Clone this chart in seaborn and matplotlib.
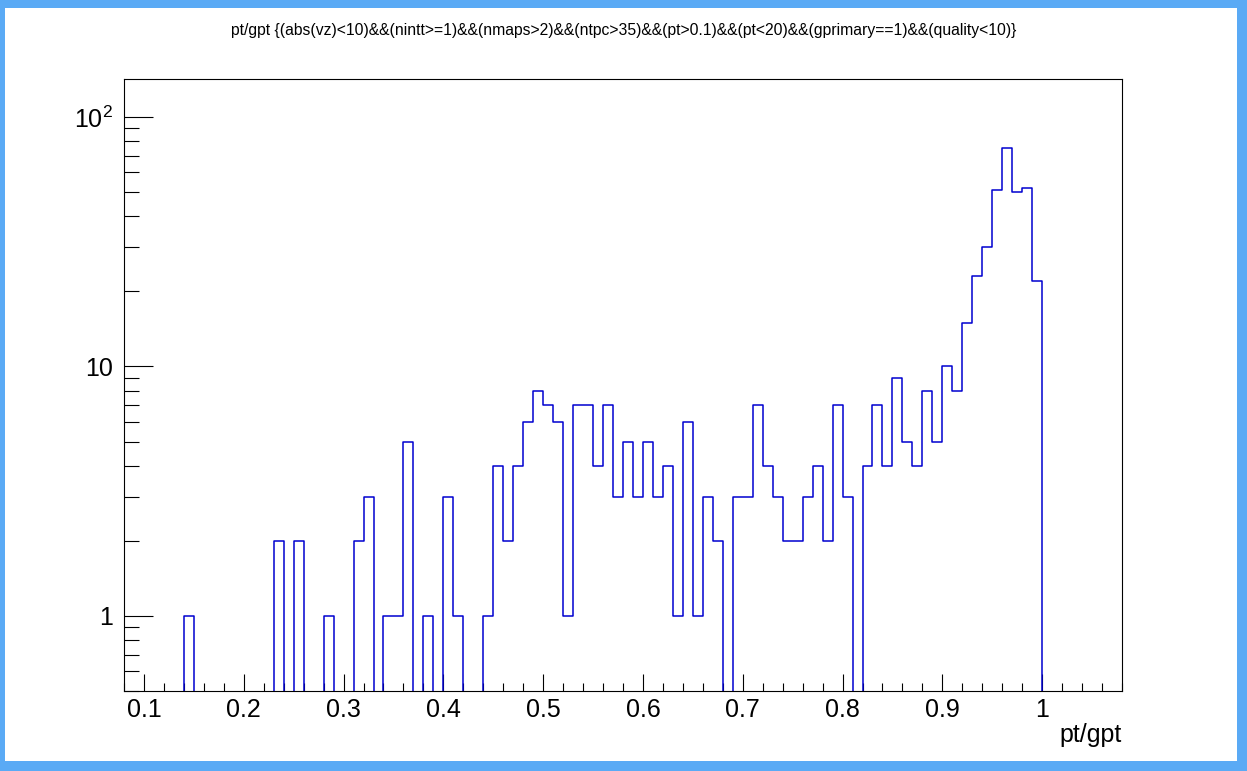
import numpy as np
import pandas as pd
import matplotlib
matplotlib.use("Agg")
import matplotlib.pyplot as plt
import matplotlib.ticker as mticker
from matplotlib.patches import Rectangle
import seaborn as sns

# ---- data -------------------------------------------------------------
x_min, x_max, n_bins = 0.08, 1.08, 100
counts = [
    0, 0, 0, 0, 0, 0, 1, 0, 0, 0,      # 0.08 - 0.17
    0, 0, 0, 0, 0, 2, 0, 2, 0, 0,      # 0.18 - 0.27
    1, 0, 0, 2, 3, 0, 1, 1, 5, 0,      # 0.28 - 0.37
    1, 0, 3, 1, 0, 0, 1, 4, 2, 4,      # 0.38 - 0.47
    6, 8, 7, 6, 1, 7, 7, 4, 7, 3,      # 0.48 - 0.57
    5, 3, 5, 3, 4, 1, 6, 1, 3, 2,      # 0.58 - 0.67
    0, 3, 3, 7, 4, 3, 2, 2, 3, 4,      # 0.68 - 0.77
    2, 7, 3, 0, 4, 7, 4, 9, 5, 4,      # 0.78 - 0.87
    8, 5, 10, 8, 15, 23, 30, 51, 75, 50,  # 0.88 - 0.97
    52, 22, 0, 0, 0, 0, 0, 0, 0, 0,    # 0.98 - 1.07
]
x_ticks = [0.1, 0.2, 0.3, 0.4, 0.5, 0.6, 0.7, 0.8, 0.9, 1.0]
x_tick_labels = ["0.1", "0.2", "0.3", "0.4", "0.5", "0.6", "0.7", "0.8", "0.9", "1"]
y_ticks = [1, 10, 100]
y_tick_labels = ["1", "10", r"$\mathregular{10^{2}}$"]
title = ("pt/gpt {(abs(vz)<10)&&(nintt>=1)&&(nmaps>2)&&(ntpc>35)&&(pt>0.1)"
         "&&(pt<20)&&(gprimary==1)&&(quality<10)}")
x_label = "pt/gpt"

edges = np.linspace(x_min, x_max, n_bins + 1)
centers = 0.5 * (edges[:-1] + edges[1:])
df = pd.DataFrame({"center": centers, "count": counts})

# ---- style ------------------------------------------------------------
sns.set_theme(style="white")
plt.rcParams["font.family"] = ["Liberation Sans", "DejaVu Sans"]
plt.rcParams["mathtext.fontset"] = "custom"
plt.rcParams["mathtext.rm"] = "Liberation Sans"

W, H = 1247, 771
fig = plt.figure(figsize=(W / 100, H / 100), dpi=100)
fig.patch.set_facecolor("#5aaaf5")
# white canvas inside the blue window frame
fig.patches.append(Rectangle((5 / W, 10 / H), (1237 - 5) / W, (763 - 10) / H,
                             transform=fig.transFigure, facecolor="white",
                             edgecolor="none", zorder=-5))

ax_l, ax_r, ax_t, ax_b = 124, 1122, 79, 691
ax = fig.add_axes([ax_l / W, (H - ax_b) / H, (ax_r - ax_l) / W, (ax_b - ax_t) / H])
ax.set_zorder(2)
ax.set_facecolor("white")

sns.histplot(data=df, x="center", weights="count", bins=edges.tolist(),
             element="step", fill=False, color="#0000d0", linewidth=1.1, ax=ax)

ax.set_yscale("log")
ax.set_xlim(x_min, x_max)
ax.set_ylim(0.5, 142)

ax.xaxis.set_major_locator(mticker.FixedLocator(x_ticks))
ax.xaxis.set_major_formatter(mticker.FixedFormatter(x_tick_labels))
ax.xaxis.set_minor_locator(mticker.MultipleLocator(0.02))
ax.yaxis.set_major_locator(mticker.FixedLocator(y_ticks))
ax.yaxis.set_major_formatter(mticker.FixedFormatter(y_tick_labels))
ax.yaxis.set_minor_locator(mticker.LogLocator(base=10, subs=np.arange(2, 10)))
ax.yaxis.set_minor_formatter(mticker.NullFormatter())

ax.tick_params(axis="x", which="major", direction="in", length=12.5, width=0.8,
               color="black", labelcolor="black", labelsize=18, pad=5,
               bottom=True, top=False)
ax.tick_params(axis="x", which="minor", direction="in", length=6, width=0.8,
               color="black", bottom=True, top=False)
ax.tick_params(axis="y", which="major", direction="in", length=21, width=0.8,
               color="black", labelcolor="black", labelsize=18, pad=8,
               left=True, right=False)
ax.tick_params(axis="y", which="minor", direction="in", length=11, width=0.8,
               color="black", left=True, right=False)
for sp in ax.spines.values():
    sp.set_visible(True)
    sp.set_color("black")
    sp.set_linewidth(0.8)

ax.set_ylabel("")
ax.set_xlabel(x_label, fontsize=18, color="black", ha="right", va="top")
ax.xaxis.set_label_coords(1.0, -0.052)

fig.text(0.5, 1 - 30 / H, title, ha="center", va="center", fontsize=11.3,
         color="black")

fig.savefig("out.png", dpi=100, facecolor=fig.get_facecolor())
